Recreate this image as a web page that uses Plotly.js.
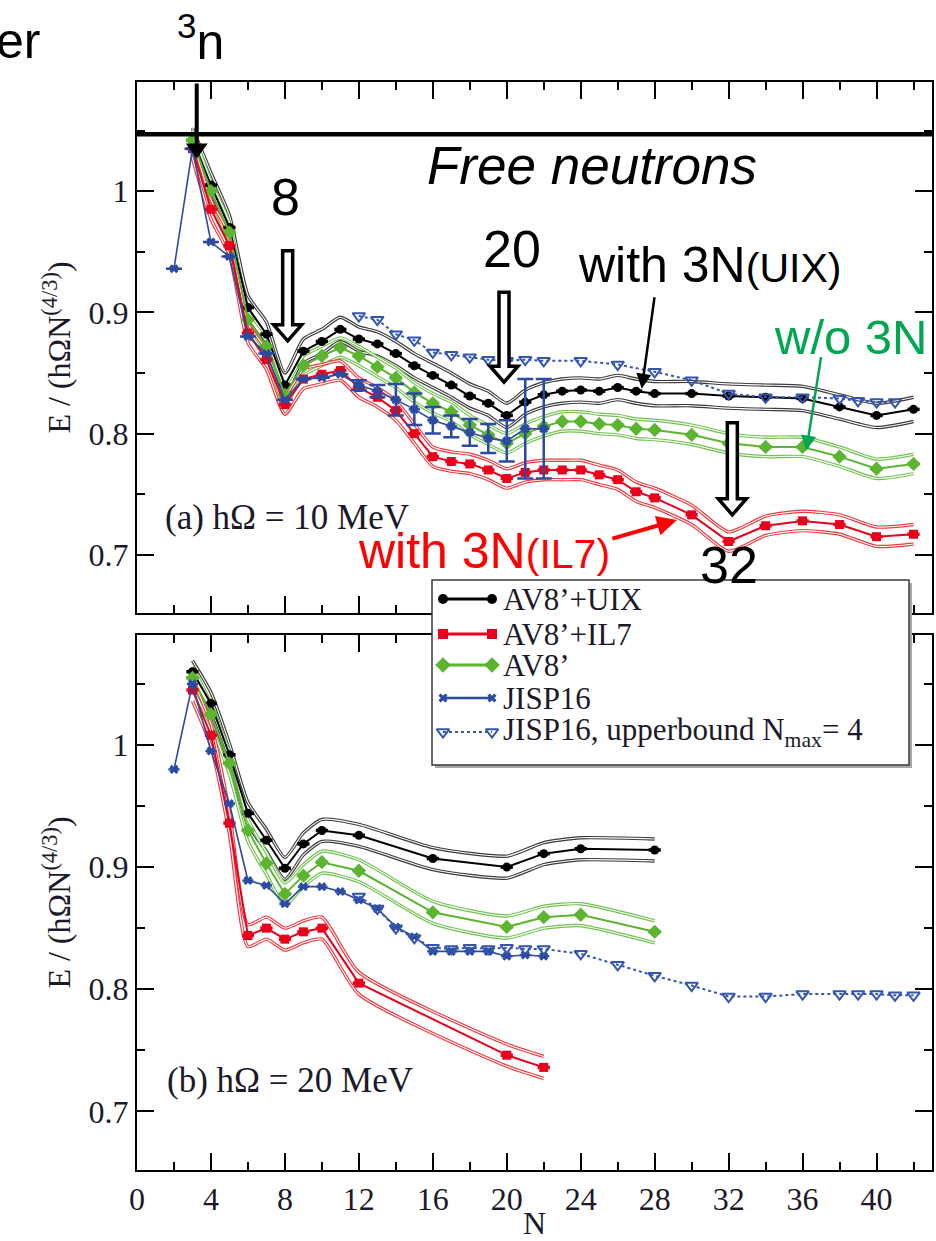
<!DOCTYPE html>
<html>
<head>
<meta charset="utf-8">
<script src="https://cdn.plot.ly/plotly-3.0.1.min.js"></script>
<style>
html,body{margin:0;padding:0;background:#fff;}
#chart{width:936px;height:1241px;}
</style>
</head>
<body>
<div id="chart"></div>
<script>
// ---------------- DATA ----------------
// Panel (a): hOmega = 10 MeV
const nTopModel = [3,4,5,6,7,8,9,10,11,12,13,14,15,16,17,18,19,20,21,22,23,24,25,26,27,28,30,32,34,36,38,40,42];
const uixTop = [1.042,1.005,0.970,0.904,0.882,0.840,0.868,0.876,0.886,0.878,0.874,0.866,0.856,0.848,0.840,0.831,0.825,0.815,0.826,0.832,0.835,0.836,0.835,0.838,0.835,0.833,0.833,0.831,0.830,0.829,0.822,0.815,0.820];
const il7Top = [1.035,0.985,0.955,0.883,0.861,0.824,0.845,0.849,0.852,0.838,0.830,0.819,0.800,0.781,0.777,0.775,0.770,0.763,0.768,0.770,0.770,0.770,0.766,0.762,0.752,0.747,0.733,0.711,0.724,0.728,0.725,0.715,0.717];
const av8Top = [1.042,1.000,0.966,0.894,0.872,0.832,0.856,0.864,0.871,0.864,0.855,0.846,0.834,0.825,0.818,0.807,0.799,0.792,0.800,0.806,0.810,0.810,0.808,0.807,0.804,0.803,0.799,0.792,0.789,0.789,0.781,0.771,0.775];
const jispTopN = [2,3,4,5,6,7,8,9,10,11,12,13,14,15,16,17,18,19,20,21,22];
const jispTop = [0.936,1.035,0.958,0.946,0.880,0.866,0.828,0.845,0.846,0.849,0.840,0.835,0.828,0.820,0.811,0.806,0.801,0.796,0.794,0.804,0.804];
const jispTopErr = [0,0,0,0,0,0,0,0,0,0,0.004,0.005,0.013,0.013,0.011,0.009,0.011,0.012,0.017,0.041,0.041];
const upperTopN = [12,13,14,15,16,17,18,19,20,21,22,24,26,28,30,32,34,36,38,39,40,41];
const upperTop = [0.897,0.894,0.882,0.877,0.867,0.865,0.863,0.861,0.860,0.861,0.860,0.860,0.857,0.851,0.844,0.833,0.830,0.830,0.829,0.827,0.826,0.826];
const bandTop = {uix:0.010, il7:0.008, av8:0.008};

// Panel (b): hOmega = 20 MeV
const nBotModel = [3,4,5,6,7,8,9,10,12,16,20,22,24,28];
const uixBot = [1.060,1.034,0.992,0.944,0.922,0.899,0.919,0.930,0.926,0.907,0.900,0.911,0.915,0.914];
const av8Bot = [1.055,1.025,0.985,0.930,0.903,0.878,0.893,0.904,0.897,0.863,0.851,0.859,0.861,0.847];
const nBotIL7 = [3,4,5,6,7,8,9,10,12,20,22];
const il7Bot = [1.045,1.008,0.936,0.844,0.850,0.841,0.847,0.850,0.805,0.746,0.736];
const jispBotN = [2,3,4,5,6,7,8,9,10,11,12,13,14,15,16,17,18,19,20,21,22];
const jispBot = [0.980,1.050,0.995,0.952,0.889,0.885,0.870,0.884,0.884,0.880,0.873,0.866,0.851,0.843,0.831,0.831,0.831,0.831,0.827,0.828,0.827];
const upperBotN = [12,13,14,15,16,17,18,19,20,21,22,24,26,28,30,32,34,36,38,39,40,41,42];
const upperBot = [0.876,0.866,0.850,0.842,0.834,0.833,0.834,0.833,0.834,0.833,0.833,0.829,0.820,0.811,0.803,0.794,0.794,0.796,0.796,0.796,0.796,0.795,0.795];
const bandBot = {uix:0.009, il7:0.009, av8:0.009};

const freeNeutronLevel = 1.047;
const xTicks = [0,4,8,12,16,20,24,28,32,36,40];
const yTicks = [0.7,0.8,0.9,1];

const seriesNames = ["AV8’+UIX","AV8’+IL7","AV8’","JISP16","JISP16, upperbound N<sub>max</sub>= 4"];

// ---------------- STYLE ----------------
const SERIF = 'Liberation Serif';
const SANS = 'Liberation Sans';
const INK = '#1c1a2a';
const C = {
  uix:'#000000', uixBand:'#3a3a3a',
  il7:'#e8001c', il7Band:'#ee3a40',
  av8:'#5cb531', av8Band:'#72c252',
  jisp:'#2b4aa0', upper:'#3556b0'
};
const styleOf = [
  {color:C.uix, symbol:'circle', size:10, dash:'solid', width:3},
  {color:C.il7, symbol:'square', size:10, dash:'solid', width:3},
  {color:C.av8, symbol:'diamond', size:12, dash:'solid', width:3},
  {color:C.jisp, symbol:'x', size:8, dash:'solid', width:2.5},
  {color:C.upper, symbol:'triangle-down-open', size:11, dash:'dot', width:2}
];

function band(n, v, hw, color, xa, ya){
  const up = v.map(d => d + hw), lo = v.map(d => d - hw);
  const out = [];
  [up, lo].forEach(arr => {
    out.push({x:n, y:arr, xaxis:xa, yaxis:ya, mode:'lines', showlegend:false, hoverinfo:'skip',
      line:{color:color, width:3.4, shape:'spline', smoothing:0.6}});
    out.push({x:n, y:arr, xaxis:xa, yaxis:ya, mode:'lines', showlegend:false, hoverinfo:'skip',
      line:{color:'#ffffff', width:1.1, shape:'spline', smoothing:0.6}});
  });
  return out;
}
function center(n, v, k, xa, ya){
  const s = styleOf[k];
  return {x:n, y:v, xaxis:xa, yaxis:ya, mode:'lines+markers', name:seriesNames[k], showlegend:false,
    line:{color:s.color, width:2}, marker:{color:s.color, symbol:s.symbol, size:s.size - 1},
    error_x:{type:'constant', value:0.33, thickness:3.5, width:0, color:s.color}};
}

const traces = [];
// top panel
traces.push(...band(nTopModel, uixTop, bandTop.uix, C.uixBand, 'x', 'y'));
traces.push(...band(nTopModel, av8Top, bandTop.av8, C.av8Band, 'x', 'y'));
traces.push(...band(nTopModel, il7Top, bandTop.il7, C.il7Band, 'x', 'y'));
traces.push(center(nTopModel, uixTop, 0, 'x', 'y'));
traces.push(center(nTopModel, av8Top, 2, 'x', 'y'));
traces.push(center(nTopModel, il7Top, 1, 'x', 'y'));
traces.push({x:jispTopN, y:jispTop, xaxis:'x', yaxis:'y', mode:'lines+markers', name:seriesNames[3], showlegend:false,
  line:{color:C.jisp, width:1.6}, marker:{color:C.jisp, symbol:'x', size:8},
  error_x:{type:'constant', value:0.3, thickness:2.5, width:0, color:C.jisp},
  error_y:{type:'data', array:jispTopErr, visible:true, thickness:2.5, width:8, color:C.jisp}});
traces.push({x:upperTopN, y:upperTop, xaxis:'x', yaxis:'y', mode:'lines+markers', name:seriesNames[4], showlegend:false,
  line:{color:C.upper, width:2, dash:'dot'}, marker:{color:C.upper, symbol:'triangle-down-open', size:11, line:{width:2, color:C.upper}}});
// bottom panel
traces.push(...band(nBotModel, uixBot, bandBot.uix, C.uixBand, 'x2', 'y2'));
traces.push(...band(nBotModel, av8Bot, bandBot.av8, C.av8Band, 'x2', 'y2'));
traces.push(...band(nBotIL7, il7Bot, bandBot.il7, C.il7Band, 'x2', 'y2'));
traces.push(center(nBotModel, uixBot, 0, 'x2', 'y2'));
traces.push(center(nBotModel, av8Bot, 2, 'x2', 'y2'));
traces.push(center(nBotIL7, il7Bot, 1, 'x2', 'y2'));
traces.push({x:jispBotN, y:jispBot, xaxis:'x2', yaxis:'y2', mode:'lines+markers', showlegend:false,
  line:{color:C.jisp, width:1.6}, marker:{color:C.jisp, symbol:'x', size:8},
  error_x:{type:'constant', value:0.3, thickness:2.5, width:0, color:C.jisp}});
traces.push({x:upperBotN, y:upperBot, xaxis:'x2', yaxis:'y2', mode:'lines+markers', showlegend:false,
  line:{color:C.upper, width:2, dash:'dot'}, marker:{color:C.upper, symbol:'triangle-down-open', size:11, line:{width:2, color:C.upper}}});

// ---------------- LEGEND (drawn on a pixel-unit overlay axis) ----------------
// overlay axis x3/y3 uses page-pixel units: x = px from left, y = px from top
const legBox = {x0:432, x1:909, y0:580, y1:765};
const legRowY = [599, 634, 665, 698, 732];
const legSample = [443, 492];
const legTextX = 502;
seriesNames.forEach((nm, k) => {
  const s = styleOf[k];
  const mk = {color:s.color, symbol:s.symbol, size:s.size};
  if (k === 4) mk.line = {width:2, color:s.color};
  traces.push({x:legSample, y:[legRowY[k], legRowY[k]], xaxis:'x3', yaxis:'y3', mode:'lines+markers',
    showlegend:false, hoverinfo:'skip', line:{color:s.color, width:s.width, dash:s.dash}, marker:mk});
});

// ---------------- AXES ----------------
function xAxis(extra){
  return Object.assign({range:[0,43], tickvals:xTicks, ticks:'inside', ticklen:17, tickwidth:2, tickcolor:'#000',
    showline:true, linewidth:2, linecolor:'#000', mirror:'ticks', showgrid:false, zeroline:false,
    tickfont:{family:SERIF, size:32, color:INK},
    minor:{dtick:2, tick0:0, ticks:'inside', ticklen:8, tickwidth:2, tickcolor:'#000', showgrid:false}}, extra);
}
function yAxis(extra){
  return Object.assign({range:[0.652,1.09], tickvals:yTicks, ticks:'inside', ticklen:17, tickwidth:2, tickcolor:'#000',
    showline:true, linewidth:2, linecolor:'#000', mirror:'ticks', showgrid:false, zeroline:false,
    tickfont:{family:SERIF, size:32, color:INK},
    title:{text:'E / (hΩN<sup>(4/3)</sup>)', font:{family:SERIF, size:32, color:INK}, standoff:8},
    minor:{dtick:0.05, tick0:0, ticks:'inside', ticklen:8, tickwidth:2, tickcolor:'#000', showgrid:false}}, extra);
}

function hollowArrow(n, tip, h){
  return {type:'path', xref:'x', yref:'y', xsizemode:'pixel', ysizemode:'pixel', xanchor:n, yanchor:tip,
    path:'M-5,'+h+' L5,'+h+' L5,16 L14,16 L0,0 L-14,16 L-5,16 Z',
    fillcolor:'#ffffff', line:{color:'#000', width:3.5}, layer:'above'};
}
function solidArrow(n, tip, h){
  return {type:'path', xref:'x', yref:'y', xsizemode:'pixel', ysizemode:'pixel', xanchor:n, yanchor:tip,
    path:'M-2,'+h+' L2,'+h+' L2,15 L11,15 L0,0 L-11,15 L-2,15 Z',
    fillcolor:'#000', line:{color:'#000', width:0}, layer:'above'};
}

const shapes = [
  {type:'line', xref:'x domain', yref:'y', x0:0, x1:1, y0:freeNeutronLevel, y1:freeNeutronLevel,
   line:{color:'#000', width:4.5}, layer:'above'},
  hollowArrow(8.15, 0.8765, 90),
  hollowArrow(19.85, 0.8424, 90),
  hollowArrow(32.2, 0.733, 92),
  solidArrow(3.23, 1.027, 75),
  // legend shadow + box (on the overlay subplot, beneath its sample lines)
  {type:'rect', xref:'x3', yref:'y3', x0:legBox.x0+3, x1:legBox.x1+3, y0:legBox.y0+3, y1:legBox.y1+3,
   fillcolor:'#a8a8a8', line:{width:0}, layer:'below'},
  {type:'rect', xref:'x3', yref:'y3', x0:legBox.x0, x1:legBox.x1, y0:legBox.y0, y1:legBox.y1,
   fillcolor:'#ffffff', line:{color:'#3a3a3a', width:1.5}, layer:'below'}
];

const big = 52;
const annotations = [
  {xref:'paper', yref:'paper', x:-0.1195, y:1.0377, xanchor:'right', yanchor:'middle', showarrow:false,
   text:'er', font:{family:SANS, size:50, color:'#000'}},
  {xref:'paper', yref:'paper', x:0.080, y:1.04, xanchor:'center', yanchor:'middle', showarrow:false,
   text:'<sup>3</sup>n', font:{family:SANS, size:50, color:'#000'}},
  {xref:'x', yref:'y', x:24.6, y:1.021, xanchor:'center', yanchor:'middle', showarrow:false,
   text:'<i>Free neutrons</i>', font:{family:SANS, size:53, color:'#000'}},
  {xref:'x', yref:'y', x:8.05, y:0.995, showarrow:false, text:'8', font:{family:SANS, size:big, color:'#000'}},
  {xref:'x', yref:'y', x:20.27, y:0.952, showarrow:false, text:'20', font:{family:SANS, size:big, color:'#000'}},
  {xref:'x', yref:'y', x:23.75, y:0.939, xanchor:'left', showarrow:false,
   text:'with 3N<span style="font-size:41px">(UIX)</span>', font:{family:SANS, size:50, color:'#000'}},
  {xref:'x', yref:'y', x:38.6, y:0.880, showarrow:false, text:'w/o 3N', font:{family:SANS, size:49, color:'#00a650'}},
  {xref:'x', yref:'y', x:11.85, y:0.703, xanchor:'left', showarrow:false,
   text:'with 3N<span style="font-size:41px">(IL7)</span>', font:{family:SANS, size:50, color:'#ff0000'}},
  {xref:'x', yref:'y', x:32.0, y:0.692, showarrow:false, text:'32', font:{family:SANS, size:big, color:'#000'}},
  {xref:'x', yref:'y', x:1.4, y:0.731, xanchor:'left', showarrow:false,
   text:'(a) hΩ = 10 MeV', font:{family:SERIF, size:35, color:INK}},
  {xref:'x2', yref:'y2', x:1.5, y:0.7254, xanchor:'left', showarrow:false,
   text:'(b) hΩ = 20 MeV', font:{family:SERIF, size:35, color:INK}},
  // pointer arrows
  {xref:'x', yref:'y', x:27.3, y:0.837, ax:13, ay:-93, text:'', showarrow:true, arrowhead:2, arrowsize:1.2,
   arrowwidth:2.5, arrowcolor:'#000', standoff:0},
  {xref:'x', yref:'y', x:36.2, y:0.786, ax:15, ay:-95, text:'', showarrow:true, arrowhead:2, arrowsize:1.2,
   arrowwidth:2.5, arrowcolor:'#00a650', standoff:0},
  {xref:'x', yref:'y', x:29.2, y:0.7287, ax:-66, ay:19, text:'', showarrow:true, arrowhead:2, arrowsize:1,
   arrowwidth:4, arrowcolor:'#ff0000', standoff:0}
];
// legend labels
seriesNames.forEach((nm, k) => {
  annotations.push({xref:'x3', yref:'y3', x:legTextX, y:legRowY[k], xanchor:'left', yanchor:'middle',
    showarrow:false, text:nm, font:{family:SERIF, size:31, color:INK}, borderpad:0});
});

const W = 936, H = 1241, mL = 137, mR = 4, mT = 82, mB = 71;
const plotW = W - mL - mR, plotH = H - mT - mB;
const ovX = [428, 916], ovY = [576, 772];

const layout = {
  width:W, height:H,
  margin:{l:mL, r:mR, t:mT, b:mB},
  paper_bgcolor:'#fff', plot_bgcolor:'rgba(0,0,0,0)',
  showlegend:false,
  xaxis: xAxis({anchor:'y', domain:[0,1], showticklabels:false}),
  yaxis: yAxis({anchor:'x', domain:[0.5119,1]}),
  xaxis2: xAxis({anchor:'y2', domain:[0,1], title:{text:'N', font:{family:SERIF, size:32, color:INK}, standoff:2}}),
  yaxis2: yAxis({anchor:'x2', domain:[0,0.4917]}),
  // overlay axes in page-pixel units (y grows downward)
  xaxis3: {anchor:'y3', domain:[(ovX[0]-mL)/plotW, (ovX[1]-mL)/plotW], range:ovX, autorange:false, visible:false, fixedrange:true},
  yaxis3: {anchor:'x3', domain:[(H-mB-ovY[1])/plotH, (H-mB-ovY[0])/plotH], range:[ovY[1], ovY[0]], autorange:false, visible:false, fixedrange:true},
  shapes: shapes,
  annotations: annotations
};

Plotly.newPlot('chart', traces, layout, {staticPlot:true, displayModeBar:false});
</script>
</body>
</html>
